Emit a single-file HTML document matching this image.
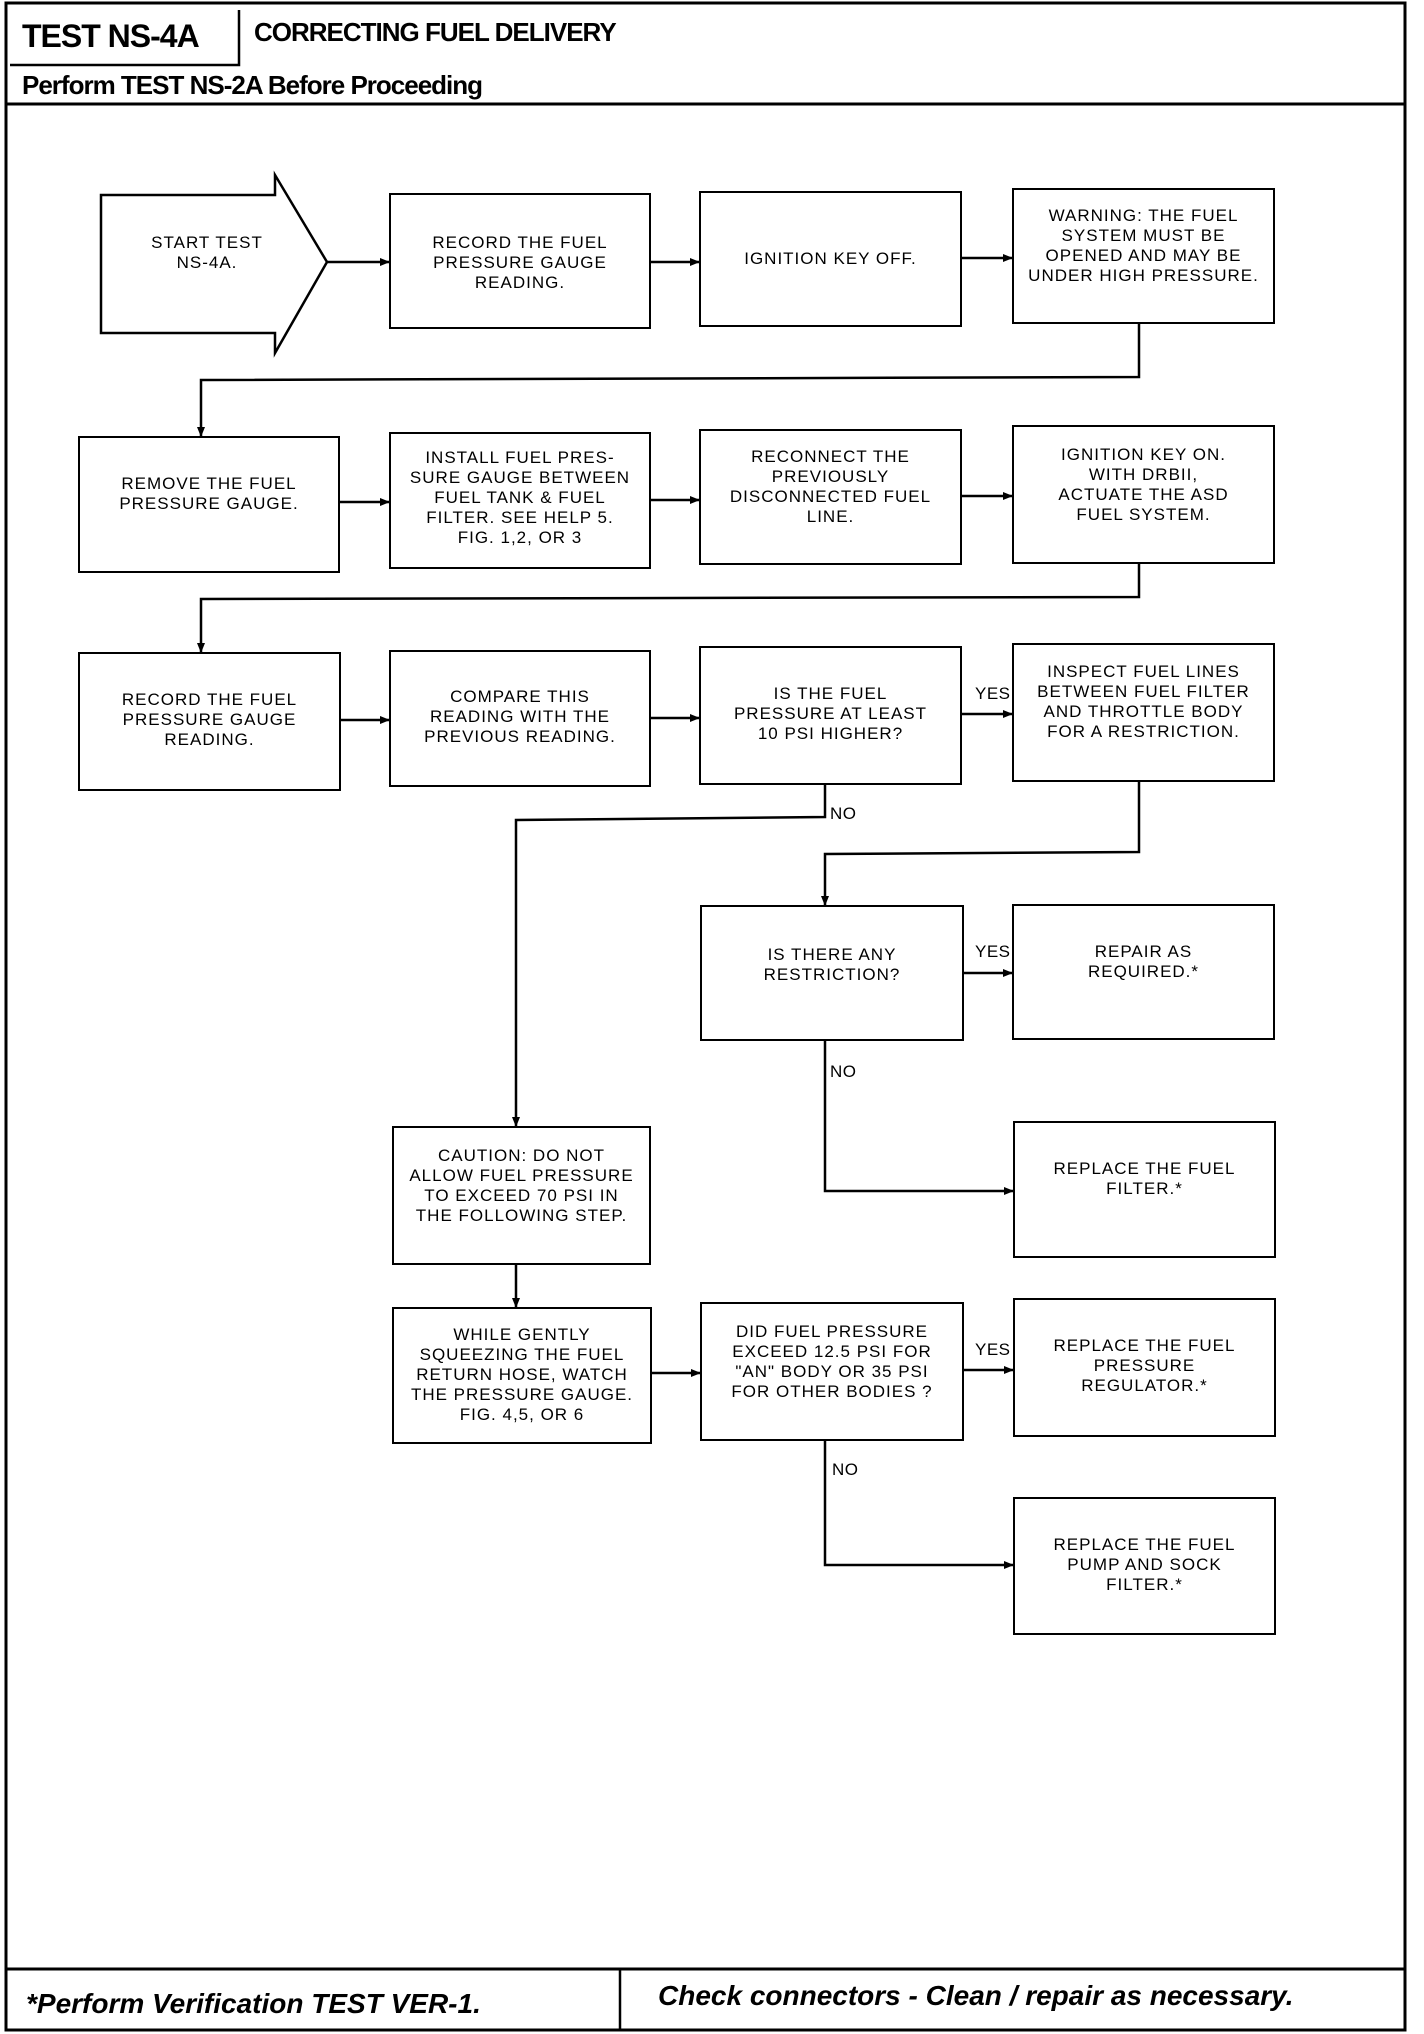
<!DOCTYPE html>
<html><head><meta charset="utf-8"><style>
body{margin:0;width:1424px;height:2034px;background:#fff;position:relative;overflow:hidden;font-family:"Liberation Sans",sans-serif;color:#000}
.b{position:absolute;border:2.5px solid #000;box-sizing:border-box;display:flex;justify-content:center;text-align:center;font-size:17px;line-height:20px;letter-spacing:1px;padding-top:38px}
.t{position:absolute;font-size:17px;letter-spacing:0.5px}
svg{position:absolute;left:0;top:0}
</style></head><body>
<svg width="1424" height="2034">
<defs><marker id="a" markerWidth="10" markerHeight="8" refX="9" refY="4" orient="auto" markerUnits="userSpaceOnUse"><path d="M0,0 L10,4 L0,8 z" fill="#000"/></marker></defs>
<g fill="none" stroke="#000" stroke-width="2.5">
<rect x="6" y="3" width="1399" height="2027" stroke-width="3"/>
<line x1="6" y1="104" x2="1405" y2="104" stroke-width="3"/>
<line x1="6" y1="1969" x2="1405" y2="1969" stroke-width="3"/>
<line x1="620" y1="1969" x2="620" y2="2030"/>
<polyline points="10,65 239,65 239,10"/>
<polygon points="101,195 275,195 275,175 327,262 275,353 275,333 101,333"/>
</g>
<g fill="none" stroke="#000" stroke-width="2.5" marker-end="url(#a)">
<line x1="327" y1="262" x2="389" y2="262"/>
<line x1="651" y1="262" x2="699" y2="262"/>
<line x1="962" y1="258" x2="1012" y2="258"/>
<polyline points="1139,324 1139,377 201,380 201,436"/>
<line x1="340" y1="502" x2="389" y2="502"/>
<line x1="651" y1="500" x2="699" y2="500"/>
<line x1="962" y1="496" x2="1012" y2="496"/>
<polyline points="1139,564 1139,597 201,599 201,652"/>
<line x1="341" y1="720" x2="389" y2="720"/>
<line x1="651" y1="718" x2="699" y2="718"/>
<line x1="962" y1="714" x2="1012" y2="714"/>
<polyline points="825,785 825,817 516,820 516,1126"/>
<polyline points="1139,782 1139,852 825,854 825,905"/>
<line x1="964" y1="973" x2="1012" y2="973"/>
<polyline points="825,1041 825,1191 1013,1191"/>
<line x1="516" y1="1265" x2="516" y2="1307"/>
<line x1="652" y1="1373" x2="700" y2="1373"/>
<line x1="964" y1="1370" x2="1013" y2="1370"/>
<polyline points="825,1441 825,1565 1013,1565"/>
</g>
</svg>
<div class="t" style="left:22px;top:18px;font-size:32px;font-weight:bold;letter-spacing:-1px">TEST NS-4A</div>
<div class="t" style="left:254px;top:17px;font-size:26px;font-weight:bold;letter-spacing:-1px">CORRECTING FUEL DELIVERY</div>
<div class="t" style="left:22px;top:70px;font-size:26px;font-weight:bold;letter-spacing:-1px">Perform TEST NS-2A Before Proceeding</div>
<div class="t" style="left:26px;top:1988px;font-size:28px;font-weight:bold;font-style:italic;letter-spacing:0">*Perform Verification TEST VER-1.</div>
<div class="t" style="left:658px;top:1980px;font-size:28px;font-weight:bold;font-style:italic;letter-spacing:0">Check connectors - Clean / repair as necessary.</div>
<div class="b" style="left:101px;top:195px;width:212px;height:138px;border:none;padding-top:38px">START TEST<br>NS-4A.</div>
<div class="b" style="left:389px;top:193px;width:262px;height:136px">RECORD THE FUEL<br>PRESSURE GAUGE<br>READING.</div>
<div class="b" style="left:699px;top:191px;width:263px;height:136px;padding-top:56px">IGNITION KEY OFF.</div>
<div class="b" style="left:1012px;top:188px;width:263px;height:136px;padding-top:16px">WARNING: THE FUEL<br>SYSTEM MUST BE<br>OPENED AND MAY BE<br>UNDER HIGH PRESSURE.</div>
<div class="b" style="left:78px;top:436px;width:262px;height:137px;padding-top:36px">REMOVE THE FUEL<br>PRESSURE GAUGE.</div>
<div class="b" style="left:389px;top:432px;width:262px;height:137px;padding-top:14px">INSTALL FUEL PRES-<br>SURE GAUGE BETWEEN<br>FUEL TANK &amp; FUEL<br>FILTER. SEE HELP 5.<br>FIG. 1,2, OR 3</div>
<div class="b" style="left:699px;top:429px;width:263px;height:136px;padding-top:16px">RECONNECT THE<br>PREVIOUSLY<br>DISCONNECTED FUEL<br>LINE.</div>
<div class="b" style="left:1012px;top:425px;width:263px;height:139px;padding-top:18px">IGNITION KEY ON.<br>WITH DRBII,<br>ACTUATE THE ASD<br>FUEL SYSTEM.</div>
<div class="b" style="left:78px;top:652px;width:263px;height:139px;padding-top:36px">RECORD THE FUEL<br>PRESSURE GAUGE<br>READING.</div>
<div class="b" style="left:389px;top:650px;width:262px;height:137px;padding-top:35px">COMPARE THIS<br>READING WITH THE<br>PREVIOUS READING.</div>
<div class="b" style="left:699px;top:646px;width:263px;height:139px;padding-top:36px">IS THE FUEL<br>PRESSURE AT LEAST<br>10 PSI HIGHER?</div>
<div class="b" style="left:1012px;top:643px;width:263px;height:139px;padding-top:17px">INSPECT FUEL LINES<br>BETWEEN FUEL FILTER<br>AND THROTTLE BODY<br>FOR A RESTRICTION.</div>
<div class="b" style="left:700px;top:905px;width:264px;height:136px;padding-top:38px">IS THERE ANY<br>RESTRICTION?</div>
<div class="b" style="left:1012px;top:904px;width:263px;height:136px;padding-top:36px">REPAIR AS<br>REQUIRED.*</div>
<div class="b" style="left:1013px;top:1121px;width:263px;height:137px;padding-top:36px">REPLACE THE FUEL<br>FILTER.*</div>
<div class="b" style="left:392px;top:1126px;width:259px;height:139px;padding-top:18px">CAUTION: DO NOT<br>ALLOW FUEL PRESSURE<br>TO EXCEED 70 PSI IN<br>THE FOLLOWING STEP.</div>
<div class="b" style="left:392px;top:1307px;width:260px;height:137px;padding-top:16px">WHILE GENTLY<br>SQUEEZING THE FUEL<br>RETURN HOSE, WATCH<br>THE PRESSURE GAUGE.<br>FIG. 4,5, OR 6</div>
<div class="b" style="left:700px;top:1302px;width:264px;height:139px;padding-top:18px">DID FUEL PRESSURE<br>EXCEED 12.5 PSI FOR<br>"AN" BODY OR 35 PSI<br>FOR OTHER BODIES ?</div>
<div class="b" style="left:1013px;top:1298px;width:263px;height:139px;padding-top:36px">REPLACE THE FUEL<br>PRESSURE<br>REGULATOR.*</div>
<div class="b" style="left:1013px;top:1497px;width:263px;height:138px;padding-top:36px">REPLACE THE FUEL<br>PUMP AND SOCK<br>FILTER.*</div>
<div class="t" style="left:975px;top:684px">YES</div>
<div class="t" style="left:975px;top:942px">YES</div>
<div class="t" style="left:975px;top:1340px">YES</div>
<div class="t" style="left:830px;top:804px">NO</div>
<div class="t" style="left:830px;top:1062px">NO</div>
<div class="t" style="left:832px;top:1460px">NO</div>
</body></html>
